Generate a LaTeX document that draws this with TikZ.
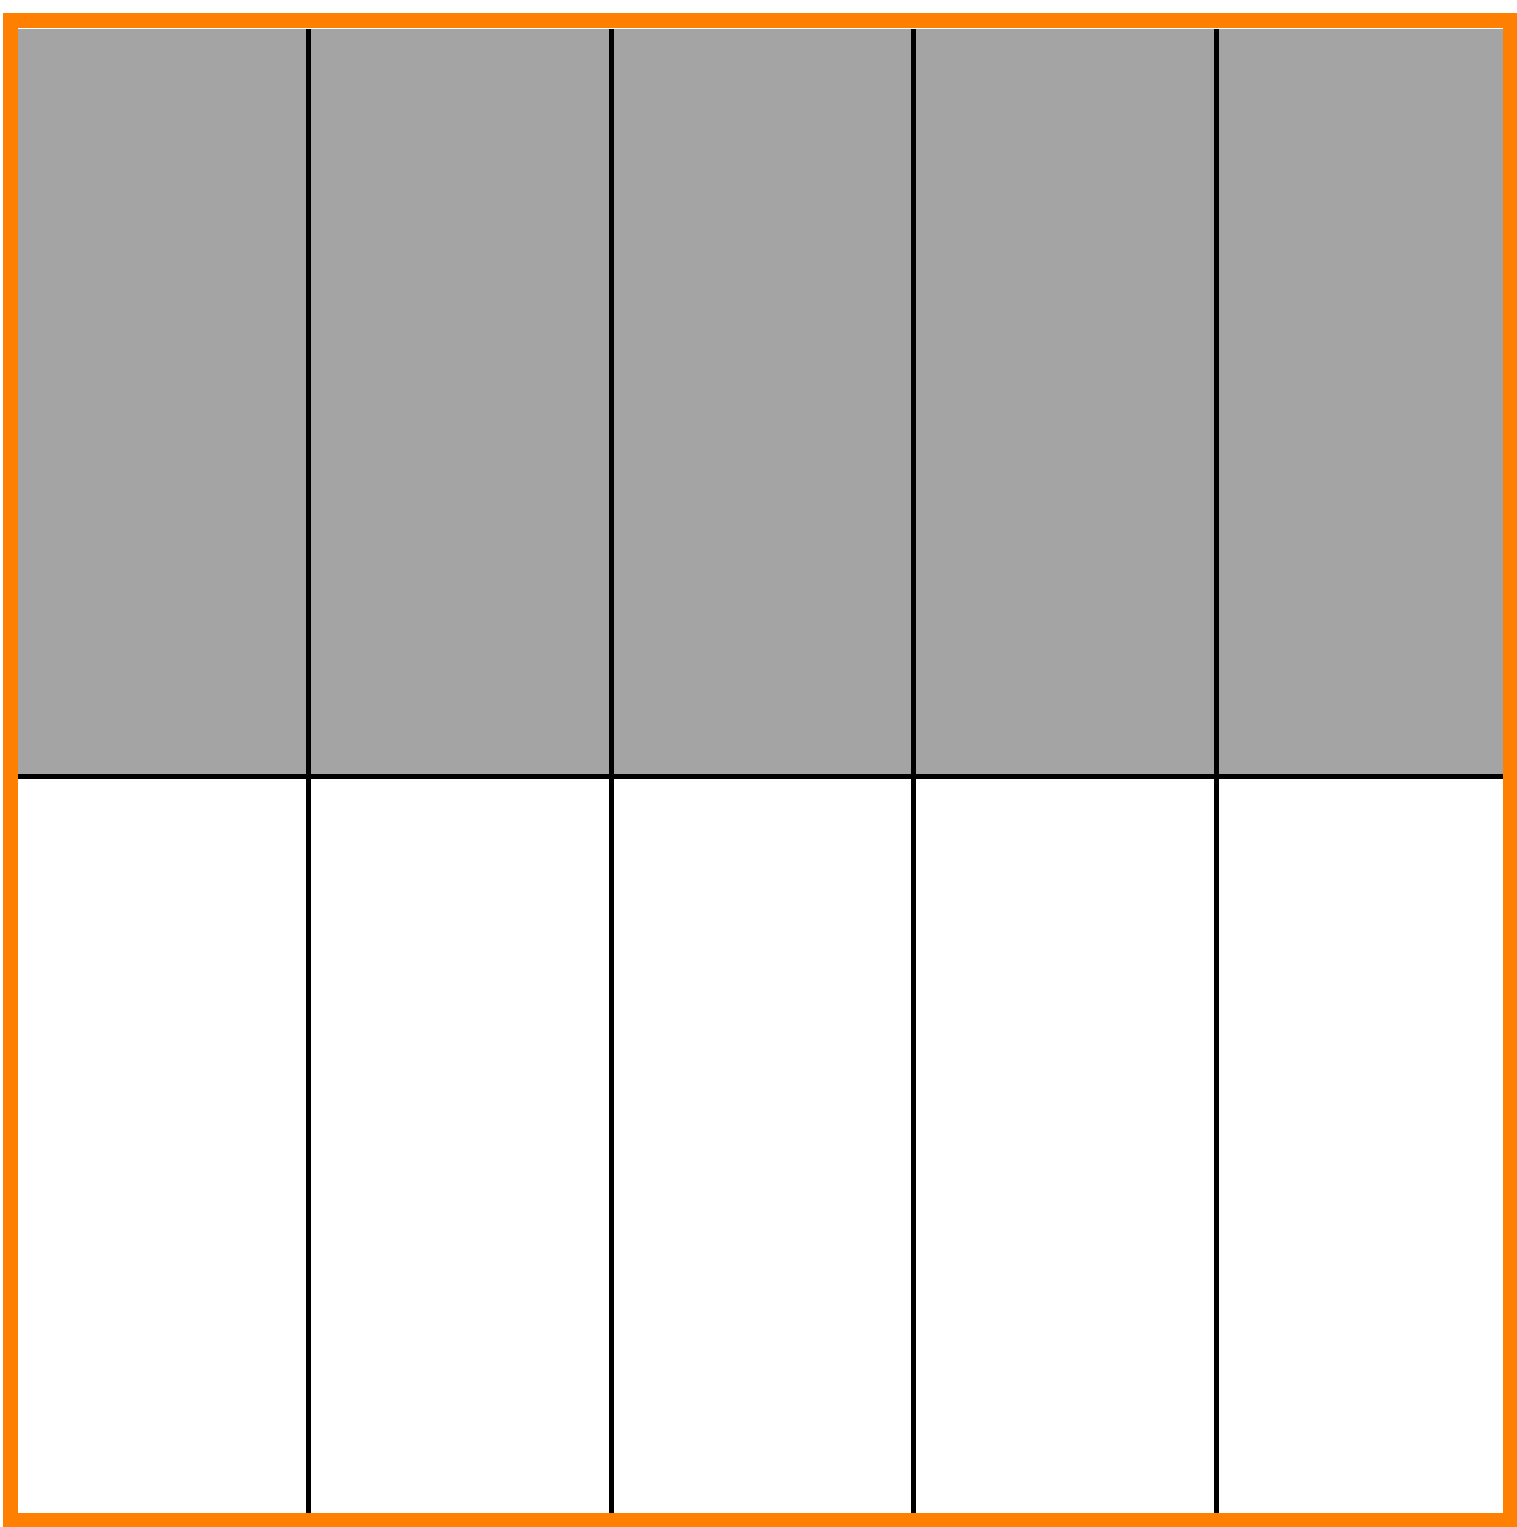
\documentclass[tikz,border=0pt]{standalone}
\definecolor{frameorange}{HTML}{FF7F00}
\definecolor{cellgray}{HTML}{A4A4A4}
\begin{document}
\begin{tikzpicture}[x=0.02cm,y=-0.02cm,
  gridline/.style={draw=black,line width=0.1cm},
  framebox/.style={draw=frameorange,line width=0.3cm}]
\useasboundingbox (0,0) rectangle (1516,1527);
\fill[white] (0,0) rectangle (1516,1527);
\fill[cellgray] (18,29) rectangle (1503,776);
\foreach \x in {308.5,611,913,1216}{
  \draw[gridline] (\x,29) -- (\x,1513);
}
\draw[gridline] (18,776) -- (1503,776);
\draw[framebox] (10.5,21) rectangle (1510.5,1520.5);
\end{tikzpicture}
\end{document}
